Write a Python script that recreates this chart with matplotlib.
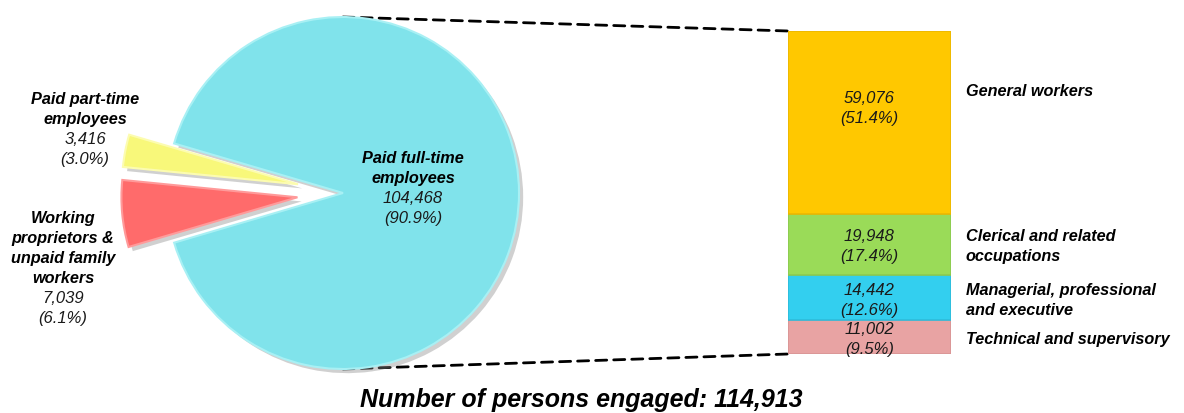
import matplotlib
matplotlib.use("Agg")
import matplotlib.pyplot as plt
from matplotlib.patches import ConnectionPatch
from matplotlib import patheffects as pe
from matplotlib.transforms import blended_transform_factory

plt.rcParams['font.family'] = ['Liberation Sans', 'DejaVu Sans']

# ---------------- data ----------------
pie_labels = ["Paid full-time\nemployees", "Paid part-time\nemployees",
              "Working\nproprietors &\nunpaid family\nworkers"]
pie_values = [104468, 3416, 7039]
pie_pcts = [90.9, 3.0, 6.1]

bar_labels = ["Technical and supervisory", "Managerial, professional\nand executive",
              "Clerical and related\noccupations", "General workers"]
bar_values = [11002, 14442, 19948, 59076]
bar_pcts = [9.5, 12.6, 17.4, 51.4]

total_persons = 114913
title_text = "Number of persons engaged: 114,913"

# ---------------- style ----------------
pie_colors = ["#80E3EB", "#F8F87A", "#FF6B6B"]
pie_edges = ["#A8F0F4", "#FCFCB0", "#FF9A9A"]
bar_colors = ["#E8A3A3", "#33CFEF", "#9ADB58", "#FFC800"]
bar_edges = ["#D99595", "#2DBCDB", "#8CCB50", "#ECB800"]

W, H = 1184, 414
fig = plt.figure(figsize=(W / 100, H / 100), dpi=100)

PITCH = 14.4   # line pitch in points (20 px)
fs_b = 11.7
fs_i = 12


def draw_block(axis, xy, lines, xycoords='data', ha='center', dy0=0.0):
    """lines: list of (text, bold) ; block vertically centred on xy (+dy0 points)."""
    n = len(lines)
    for k, (t, bold) in enumerate(lines):
        off = dy0 + ((n - 1) / 2 - k) * PITCH - 4.3
        axis.annotate(t, xy, xycoords=xycoords, xytext=(0, off), textcoords='offset points',
                      ha=ha, va='baseline', fontsize=fs_b if bold else fs_i,
                      fontweight='bold' if bold else 'normal', fontstyle='italic',
                      color='black' if bold else '#1a1a1a')


# pie axes: 1 data unit = 176 px, centre at (343, 194) px from top-left
R = 176.0
cx, cy = 343.0, 194.0
pie_w = 720.0
ax = fig.add_axes([0, 0, pie_w / W, 1])
shadow = [pe.SimplePatchShadow(offset=(3, -3), shadow_rgbFace="#8a8a8a", alpha=0.4), pe.Normal()]
wedges, _ = ax.pie(pie_values, colors=pie_colors, startangle=196.4, counterclock=True,
                   explode=[0, 0.26, 0.26], radius=1.0,
                   wedgeprops=dict(linewidth=1.5))
for w, ec in zip(wedges, pie_edges):
    w.set_edgecolor(ec)
    w.set_path_effects(shadow)
ax.set_aspect('auto')
ax.set_xlim(-cx / R, (pie_w - cx) / R)
ax.set_ylim(-(H - cy) / R, cy / R)
ax.axis('off')


def px2data(px, py):
    return (px - cx) / R, (cy - py) / R


pie_label_pos = [(413, 187.5), (85, 128), (63, 267.5)]
for lab, val, pct, (px, py) in zip(pie_labels, pie_values, pie_pcts, pie_label_pos):
    lines = [(s, True) for s in lab.split("\n")] + [(f"{val:,}", False), (f"({pct:.1f}%)", False)]
    draw_block(ax, px2data(px, py), lines)

# bar axes
bx0, bx1, by_top, by_bot = 788.0, 951.0, 32.0, 355.0
axb = fig.add_axes([bx0 / W, (H - by_bot) / H, (bx1 - bx0) / W, (by_bot - by_top) / H])
bar_total = sum(bar_values)
bottom = 0
tr_lab = blended_transform_factory(axb.transAxes, axb.transData)
for i, (lab, val, pct, c, ec) in enumerate(zip(bar_labels, bar_values, bar_pcts, bar_colors, bar_edges)):
    axb.bar(0.5, val, width=1.0, bottom=bottom, color=c, edgecolor=ec, linewidth=1.2)
    mid = bottom + val / 2
    is_top = (i == len(bar_values) - 1)
    off_num = 11.5 if is_top else 0
    off_lab = 24 if is_top else 0
    draw_block(axb, (0.5, mid), [(f"{val:,}", False), (f"({pct:.1f}%)", False)], dy0=off_num)
    draw_block(axb, (1.09, mid), [(s, True) for s in lab.split("\n")], xycoords=tr_lab,
               ha='left', dy0=off_lab)
    bottom += val
axb.set_xlim(0, 1)
axb.set_ylim(0, bar_total)
axb.axis('off')

# connector lines
for ya, yb in [(1.0, bar_total), (-1.0, 0)]:
    con = ConnectionPatch(xyA=(0, ya), coordsA=ax.transData, xyB=(0, yb), coordsB=axb.transData,
                          color='black', linewidth=2, linestyle=(0, (4, 2.5)), zorder=0)
    fig.add_artist(con)

fig.text(581 / W, 1 - 400 / H, title_text, ha='center', va='center', fontsize=18,
         fontweight='bold', fontstyle='italic')

fig.savefig("out.png", dpi=100)
